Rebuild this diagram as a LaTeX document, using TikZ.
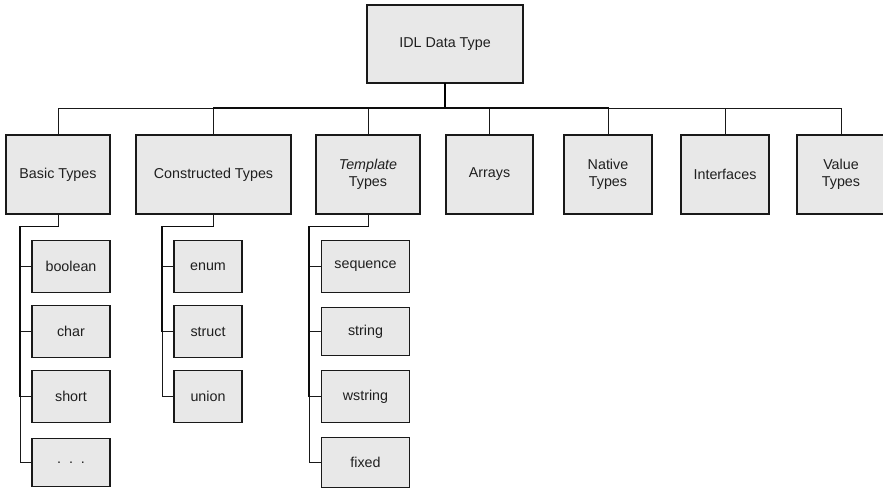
\documentclass[tikz,border=0pt]{standalone}
\usepackage{fontspec}
\setmainfont{Liberation Sans}
\begin{document}
\begin{tikzpicture}[x=1pt,y=-1pt,
  box/.style={draw=black!90, fill=black!9, line width=1.2pt, inner sep=0pt,
    align=center, font=\fontsize{14.3}{17}\selectfont, text=black!88},
  link/.style={line width=1pt, draw=black!90},
  trunk/.style={line width=2.2pt, draw=black, line cap=rect},
  trunkmid/.style={line width=1.7pt, draw=black!95, line cap=rect}]
\useasboundingbox (0,0) rectangle (883,488);

% root
\node[box, minimum width=156, minimum height=78] (root) at (445,44) {IDL Data Type};

% first level
\node[box, minimum width=104, minimum height=79] (basic) at (58,174.5) {Basic Types};
\node[box, minimum width=155, minimum height=79] (cons) at (213.5,174.5) {Constructed Types};
\node[box, minimum width=104, minimum height=79] (tmpl) at (368,174.5) {\textit{Template}\\Types};
\node[box, minimum width=87, minimum height=79] (arr) at (489.5,174.5) {Arrays};
\node[box, minimum width=88, minimum height=79] (nat) at (608,174.5) {Native\\Types};
\node[box, minimum width=88, minimum height=79] (intf) at (725,174.5) {Interfaces};
\node[box, minimum width=88, minimum height=79] (val) at (841,174.5) {Value\\Types};

% basic types
\node[box, minimum width=78, minimum height=52] (bool) at (71,266.5) {boolean};
\node[box, minimum width=78, minimum height=52] (char) at (71,331.5) {char};
\node[box, minimum width=78, minimum height=52] (short) at (71,396.5) {short};
\node[box, minimum width=78, minimum height=48] (more) at (71,462.5) {.\ \ .\ \ .};

% constructed types
\node[box, minimum width=68, minimum height=52] (enum) at (208,266.5) {enum};
\node[box, minimum width=68, minimum height=52] (struct) at (208,331.5) {struct};
\node[box, minimum width=68, minimum height=52] (union) at (208,396.5) {union};

% template types
\node[box, minimum width=88, minimum height=52] (seq) at (365.5,266.5) {sequence};
\node[box, minimum width=88, minimum height=48] (str) at (365.5,331.5) {string};
\node[box, minimum width=88, minimum height=52] (wstr) at (365.5,396.5) {wstring};
\node[box, minimum width=88, minimum height=50] (fix) at (365.5,462.5) {fixed};

% elbow points
\coordinate (bus) at (445,108);
\coordinate (bk) at (20,226.5);
\coordinate (ck) at (162.3,226.5);
\coordinate (tk) at (309.3,226.5);

% connectors from the root
\foreach \c in {basic,cons,tmpl,arr,nat,intf,val}
  \draw[link] (root.south) -- (bus) -| (\c.north);
% shared stretches, where several connectors run together
\draw[trunk] (root.south) -- (bus);
\draw[trunk] (bus -| tmpl.north) -- (bus -| arr.north);
\draw[trunkmid] (bus -| cons.north) -- (bus -| nat.north);

% connectors to the members
\foreach \c in {bool,char,short,more}
  \draw[link] (basic.south) |- (bk) |- (\c.west);
\foreach \c in {enum,struct,union}
  \draw[link] (cons.south) |- (ck) |- (\c.west);
\foreach \c in {seq,str,wstr,fix}
  \draw[link] (tmpl.south) |- (tk) |- (\c.west);
\draw[trunkmid] (basic.south |- bk) -- (bk) -- (bk |- short.west);
\draw[trunkmid] (cons.south |- ck) -- (ck) -- (ck |- struct.west);
\draw[trunkmid] (tmpl.south |- tk) -- (tk) -- (tk |- wstr.west);
\end{tikzpicture}
\end{document}
